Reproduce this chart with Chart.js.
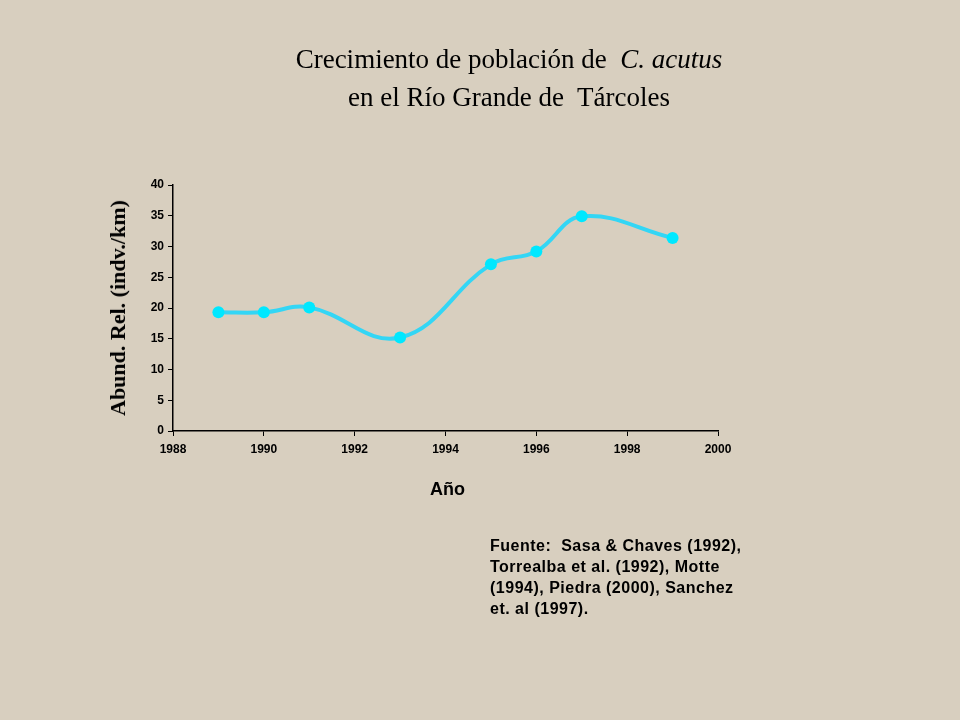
<!DOCTYPE html>
<html><head><meta charset="utf-8">
<script src="https://cdn.jsdelivr.net/npm/chart.js@4"></script>
<style>
body{margin:0;width:960px;height:720px;background:#d8cfbf;position:relative;overflow:hidden}
canvas{position:absolute;left:0;top:0}
.t{position:absolute;color:#000}
</style></head><body>
<canvas id="c" width="960" height="720"></canvas>
<div class="t" style="left:0;width:1018px;top:40px;text-align:center;font:27px 'Liberation Serif',serif;line-height:38px">Crecimiento de población de&nbsp; <i>C. acutus</i><br>en el Río Grande de&nbsp; Tárcoles</div>
<div class="t" style="left:118px;top:308px;transform:translate(-50%,-50%) rotate(-90deg);white-space:nowrap;font:bold 22px 'Liberation Serif',serif">Abund. Rel. (indv./km)</div>
<div class="t" style="left:430px;top:479px;font:bold 18px 'Liberation Sans',Arial,sans-serif">Año</div>
<div class="t" style="left:490px;top:535px;font:bold 16px 'Liberation Sans',Arial,sans-serif;letter-spacing:0.5px;line-height:21px;white-space:nowrap">Fuente:&nbsp; Sasa &amp; Chaves (1992),<br>Torrealba et al. (1992), Motte<br>(1994), Piedra (2000), Sanchez<br>et. al (1997).</div>
<script>
// Abundancia relativa por año
const years = [1989, 1990, 1991, 1993, 1995, 1996, 1997, 1999];
const abund = [19.3, 19.3, 20.1, 15.2, 27.1, 29.2, 34.9, 31.4];

const tickFont = { family: "'Liberation Sans', Arial, sans-serif", size: 12, weight: 'bold' };

new Chart(document.getElementById('c').getContext('2d'), {
    type: 'line',
    data: { datasets: [{
        data: years.map((y, i) => ({ x: y, y: abund[i] })),
        borderColor: '#33d6f5', borderWidth: 4, tension: 0.4,
        pointRadius: 6, pointBackgroundColor: '#00e8ff', pointBorderWidth: 0
    }] },
    options: {
        responsive: false, animation: false,
        layout: { padding: { left: 100, top: 185, right: 242, bottom: 259 } },
        plugins: { legend: { display: false }, tooltip: { enabled: false } },
        scales: {
            x: {
                type: 'linear', min: 1988, max: 2000,
                ticks: { stepSize: 2, color: '#000', font: tickFont, padding: 6, callback: v => String(v) },
                grid: { drawOnChartArea: false, tickLength: 5, color: '#000' },
                border: { color: '#000', width: 1.5 },
                afterFit: s => { s.height = 30; }
            },
            y: {
                min: 0, max: 40,
                ticks: { stepSize: 5, color: '#000', font: tickFont, padding: 4 },
                grid: { drawOnChartArea: false, tickLength: 5, color: '#000' },
                border: { color: '#000', width: 1.5 },
                afterFit: s => { s.width = 73; }
            }
        }
    }
});
</script>
</body></html>
